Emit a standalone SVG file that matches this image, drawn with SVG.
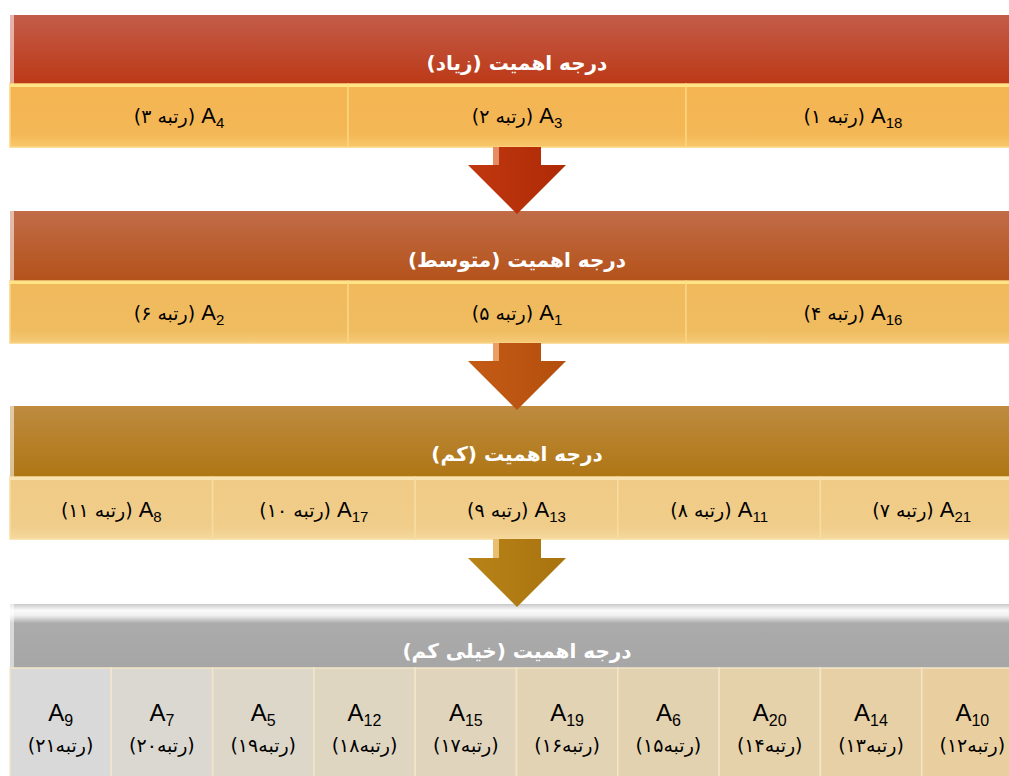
<svg xmlns="http://www.w3.org/2000/svg" width="1009" height="776" viewBox="0 0 1009 776">
<defs>
<style>
.hdr{fill:#ffffff;font-family:"DejaVu Sans","Noto Sans",sans-serif;font-size:20px;font-weight:bold;text-anchor:middle;direction:rtl}
.lbl{fill:#000000;font-family:"Liberation Sans","DejaVu Sans",sans-serif;font-size:22px;text-anchor:middle;direction:rtl}
.sub{font-size:15px}
.fa{font-family:"DejaVu Sans","Noto Sans",sans-serif;font-size:19px}
.lbl2{fill:#000000;font-family:"Liberation Sans","DejaVu Sans",sans-serif;font-size:24px;text-anchor:middle}
.sub2{font-size:16px}
.fa2{fill:#000000;font-family:"DejaVu Sans","Noto Sans",sans-serif;font-size:19px;text-anchor:middle;direction:rtl}
.c1{fill:url(#gc1);stroke:#FCD57E;stroke-width:1.5}
.c2{fill:url(#gc2);stroke:#FAD584;stroke-width:1.5}
.c3{fill:url(#gc3);stroke:#F7DDA0;stroke-width:1.5}
.c4{stroke:#F3E6C8;stroke-width:1.5}
.top1{stroke:#FFE487;stroke-width:3}
.top3{stroke:#F9E3B0;stroke-width:3}
.edge{fill:#ffffff;opacity:0.55}
</style>
<linearGradient id="gh1" x1="0" y1="0" x2="0" y2="1"><stop offset="0" stop-color="#C35C4A"/><stop offset="1" stop-color="#BC3916"/></linearGradient>
<linearGradient id="gh2" x1="0" y1="0" x2="0" y2="1"><stop offset="0" stop-color="#C16C48"/><stop offset="1" stop-color="#B4521A"/></linearGradient>
<linearGradient id="gh3" x1="0" y1="0" x2="0" y2="1"><stop offset="0" stop-color="#BE8B40"/><stop offset="1" stop-color="#AF7614"/></linearGradient>
<linearGradient id="gh4" x1="0" y1="0" x2="0" y2="1"><stop offset="0" stop-color="#C9C9C9"/><stop offset="0.1" stop-color="#FAFAFA"/><stop offset="0.18" stop-color="#EFEFEF"/><stop offset="0.3" stop-color="#ABABAB"/><stop offset="1" stop-color="#A6A6A6"/></linearGradient>
<linearGradient id="gc1" x1="0" y1="0" x2="0" y2="1"><stop offset="0" stop-color="#F4B552"/><stop offset="0.8" stop-color="#F4B756"/><stop offset="1" stop-color="#F8C86C"/></linearGradient>
<linearGradient id="gc2" x1="0" y1="0" x2="0" y2="1"><stop offset="0" stop-color="#F0BA5C"/><stop offset="0.8" stop-color="#F0BC60"/><stop offset="1" stop-color="#F5CA78"/></linearGradient>
<linearGradient id="gc3" x1="0" y1="0" x2="0" y2="1"><stop offset="0" stop-color="#F0CB86"/><stop offset="0.8" stop-color="#F0CD8A"/><stop offset="1" stop-color="#F5D89E"/></linearGradient>
<linearGradient id="ga1" x1="0" y1="0" x2="1" y2="0"><stop offset="0" stop-color="#C0380F"/><stop offset="1" stop-color="#AE2A06"/></linearGradient>
<linearGradient id="ga2" x1="0" y1="0" x2="1" y2="0"><stop offset="0" stop-color="#C45C16"/><stop offset="1" stop-color="#B44E0C"/></linearGradient>
<linearGradient id="ga3" x1="0" y1="0" x2="1" y2="0"><stop offset="0" stop-color="#B88418"/><stop offset="1" stop-color="#A8720E"/></linearGradient>
</defs>
<rect width="1009" height="776" fill="#ffffff"/>

<g id="header-1">
<rect x="10" y="15" width="1014" height="69" fill="url(#gh1)"/>
<rect class="edge" x="10" y="15" width="4" height="69"/>
<text class="hdr" x="517" y="70">درجه اهمیت (زیاد)</text>
</g>
<g id="cell-A4"><rect class="c1" x="10" y="84" width="338" height="63"/><line class="top1" x1="10" y1="85.5" x2="348" y2="85.5"/><text class="lbl" x="179" y="123">A<tspan class="sub" dy="5">4</tspan><tspan class="fa" dy="-5"> (رتبه ۳)</tspan></text></g>
<g id="cell-A3"><rect class="c1" x="348" y="84" width="338" height="63"/><line class="top1" x1="348" y1="85.5" x2="686" y2="85.5"/><text class="lbl" x="517" y="123">A<tspan class="sub" dy="5">3</tspan><tspan class="fa" dy="-5"> (رتبه ۲)</tspan></text></g>
<g id="cell-A18"><rect class="c1" x="686" y="84" width="338" height="63"/><line class="top1" x1="686" y1="85.5" x2="1024" y2="85.5"/><text class="lbl" x="853" y="123">A<tspan class="sub" dy="5">18</tspan><tspan class="fa" dy="-5"> (رتبه ۱)</tspan></text></g>

<g id="header-2">
<rect x="10" y="211" width="1014" height="70" fill="url(#gh2)"/>
<rect class="edge" x="10" y="211" width="4" height="70"/>
<text class="hdr" x="517" y="267">درجه اهمیت (متوسط)</text>
</g>
<g id="cell-A2"><rect class="c2" x="10" y="281" width="338" height="62"/><line class="top1" x1="10" y1="282.5" x2="348" y2="282.5"/><text class="lbl" x="179" y="320">A<tspan class="sub" dy="5">2</tspan><tspan class="fa" dy="-5"> (رتبه ۶)</tspan></text></g>
<g id="cell-A1"><rect class="c2" x="348" y="281" width="338" height="62"/><line class="top1" x1="348" y1="282.5" x2="686" y2="282.5"/><text class="lbl" x="517" y="320">A<tspan class="sub" dy="5">1</tspan><tspan class="fa" dy="-5"> (رتبه ۵)</tspan></text></g>
<g id="cell-A16"><rect class="c2" x="686" y="281" width="338" height="62"/><line class="top1" x1="686" y1="282.5" x2="1024" y2="282.5"/><text class="lbl" x="853" y="320">A<tspan class="sub" dy="5">16</tspan><tspan class="fa" dy="-5"> (رتبه ۴)</tspan></text></g>

<g id="header-3">
<rect x="10" y="406" width="1014" height="71" fill="url(#gh3)"/>
<rect class="edge" x="10" y="406" width="4" height="71"/>
<text class="hdr" x="517" y="461">درجه اهمیت (کم)</text>
</g>
<g id="cell-A8"><rect class="c3" x="10" y="477" width="202.6" height="62"/><line class="top3" x1="10" y1="478.5" x2="212.6" y2="478.5"/><text class="lbl" x="111.3" y="517">A<tspan class="sub" dy="5">8</tspan><tspan class="fa" dy="-5"> (رتبه ۱۱)</tspan></text></g>
<g id="cell-A17"><rect class="c3" x="212.6" y="477" width="202.6" height="62"/><line class="top3" x1="212.6" y1="478.5" x2="415.2" y2="478.5"/><text class="lbl" x="313.9" y="517">A<tspan class="sub" dy="5">17</tspan><tspan class="fa" dy="-5"> (رتبه ۱۰)</tspan></text></g>
<g id="cell-A13"><rect class="c3" x="415.2" y="477" width="202.6" height="62"/><line class="top3" x1="415.2" y1="478.5" x2="617.8" y2="478.5"/><text class="lbl" x="516.5" y="517">A<tspan class="sub" dy="5">13</tspan><tspan class="fa" dy="-5"> (رتبه ۹)</tspan></text></g>
<g id="cell-A11"><rect class="c3" x="617.8" y="477" width="202.6" height="62"/><line class="top3" x1="617.8" y1="478.5" x2="820.4" y2="478.5"/><text class="lbl" x="719.1" y="517">A<tspan class="sub" dy="5">11</tspan><tspan class="fa" dy="-5"> (رتبه ۸)</tspan></text></g>
<g id="cell-A21"><rect class="c3" x="820.4" y="477" width="202.6" height="62"/><line class="top3" x1="820.4" y1="478.5" x2="1023" y2="478.5"/><text class="lbl" x="921.7" y="517">A<tspan class="sub" dy="5">21</tspan><tspan class="fa" dy="-5"> (رتبه ۷)</tspan></text></g>

<g id="header-4">
<rect x="10" y="604" width="1014" height="64" fill="url(#gh4)"/>
<rect class="edge" x="10" y="604" width="4" height="64"/>
<text class="hdr" x="517" y="658" style="font-size:20px">درجه اهمیت (خیلی کم)</text>
</g>
<g id="cell-A9"><rect class="c4" x="10" y="668" width="101.3" height="112" fill="#D9D9D9"/><text class="lbl2" x="60.6" y="721">A<tspan class="sub2" dy="5">9</tspan></text><text class="fa2" x="60.6" y="752">(رتبه۲۱)</text></g>
<g id="cell-A7"><rect class="c4" x="111.3" y="668" width="101.3" height="112" fill="#DBD8D1"/><text class="lbl2" x="161.9" y="721">A<tspan class="sub2" dy="5">7</tspan></text><text class="fa2" x="161.9" y="752">(رتبه۲۰)</text></g>
<g id="cell-A5"><rect class="c4" x="212.6" y="668" width="101.3" height="112" fill="#DDD7CA"/><text class="lbl2" x="263.2" y="721">A<tspan class="sub2" dy="5">5</tspan></text><text class="fa2" x="263.2" y="752">(رتبه۱۹)</text></g>
<g id="cell-A12"><rect class="c4" x="313.9" y="668" width="101.3" height="112" fill="#DFD6C2"/><text class="lbl2" x="364.5" y="721">A<tspan class="sub2" dy="5">12</tspan></text><text class="fa2" x="364.5" y="752">(رتبه۱۸)</text></g>
<g id="cell-A15"><rect class="c4" x="415.2" y="668" width="101.3" height="112" fill="#E0D5BC"/><text class="lbl2" x="465.8" y="721">A<tspan class="sub2" dy="5">15</tspan></text><text class="fa2" x="465.8" y="752">(رتبه۱۷)</text></g>
<g id="cell-A19"><rect class="c4" x="516.5" y="668" width="101.3" height="112" fill="#E2D3B5"/><text class="lbl2" x="567.1" y="721">A<tspan class="sub2" dy="5">19</tspan></text><text class="fa2" x="567.1" y="752">(رتبه۱۶)</text></g>
<g id="cell-A6"><rect class="c4" x="617.8" y="668" width="101.3" height="112" fill="#E3D2AF"/><text class="lbl2" x="668.4" y="721">A<tspan class="sub2" dy="5">6</tspan></text><text class="fa2" x="668.4" y="752">(رتبه۱۵)</text></g>
<g id="cell-A20"><rect class="c4" x="719.1" y="668" width="101.3" height="112" fill="#E5D1AA"/><text class="lbl2" x="769.7" y="721">A<tspan class="sub2" dy="5">20</tspan></text><text class="fa2" x="769.7" y="752">(رتبه۱۴)</text></g>
<g id="cell-A14"><rect class="c4" x="820.4" y="668" width="101.3" height="112" fill="#E7D0A5"/><text class="lbl2" x="871" y="721">A<tspan class="sub2" dy="5">14</tspan></text><text class="fa2" x="871" y="752">(رتبه۱۳)</text></g>
<g id="cell-A10"><rect class="c4" x="921.7" y="668" width="101.3" height="112" fill="#E9CF9F"/><text class="lbl2" x="972.3" y="721">A<tspan class="sub2" dy="5">10</tspan></text><text class="fa2" x="972.3" y="752">(رتبه۱۲)</text></g>

<g id="connectors">
<polygon points="493,147 541,147 541,165 566,165 517,214 468,165 493,165" fill="url(#ga1)"/>
<rect x="493" y="147" width="6" height="18" fill="#F0A27C" opacity="0.8"/>
<polygon points="493,343 541,343 541,361 566,361 517,410 468,361 493,361" fill="url(#ga2)"/>
<rect x="493" y="343" width="6" height="18" fill="#F2B27A" opacity="0.8"/>
<polygon points="493,539 541,539 541,558 566,558 517,607 468,558 493,558" fill="url(#ga3)"/>
<rect x="493" y="539" width="6" height="19" fill="#F5D088" opacity="0.8"/>
</g>
</svg>
